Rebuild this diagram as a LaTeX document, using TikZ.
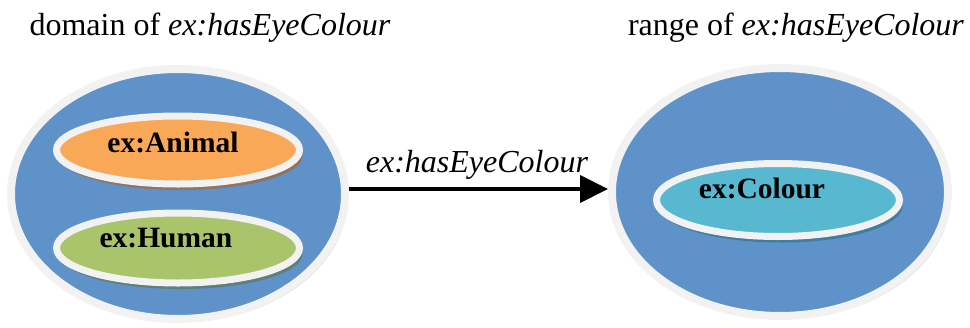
\documentclass[tikz,border=0pt]{standalone}
\usepackage{fontspec}
\setmainfont{Liberation Serif}
\usetikzlibrary{shapes.geometric,shadows,arrows.meta}
\definecolor{bigblue}{HTML}{5E92C8}
\definecolor{rimwhite}{HTML}{F2F2F2}
\definecolor{orangefill}{HTML}{F9A857}
\definecolor{greenfill}{HTML}{AAC46B}
\definecolor{cyanfill}{HTML}{57B8CF}
\definecolor{bigshadow}{HTML}{A9B4C2}
\definecolor{orangeshadow}{HTML}{8E7461}
\definecolor{greenshadow}{HTML}{5E7F7A}
\definecolor{cyanshadow}{HTML}{3F7E9E}
\tikzset{
  bigell/.style={ellipse, inner sep=0pt, fill=bigblue, draw=rimwhite, line width=8pt,
    drop shadow={shadow xshift=3pt, shadow yshift=-3pt, fill=bigshadow, opacity=0.8}},
  smallell/.style={ellipse, inner sep=0pt, draw=rimwhite, line width=7pt},
  boldlbl/.style={font=\fontsize{29.5}{33}\selectfont\bfseries, anchor=base, inner sep=0pt},
  titlelbl/.style={font=\fontsize{32}{37}\selectfont, anchor=base, inner sep=0pt},
}
\begin{document}
\begin{tikzpicture}[x=1pt,y=-1pt]
\useasboundingbox (0,0) rectangle (970,327);
% big ellipses
\node[bigell, minimum width=334pt, minimum height=250pt] (L) at (178,194) {};
\node[bigell, minimum width=336pt, minimum height=248pt] (R) at (780,192) {};
% inner ellipses
\node[smallell, fill=orangefill, minimum width=243pt, minimum height=68pt,
  drop shadow={shadow xshift=3pt, shadow yshift=-6pt, fill=orangeshadow, opacity=1}] (A) at (178,150) {};
\node[smallell, fill=greenfill, minimum width=243pt, minimum height=70pt,
  drop shadow={shadow xshift=3pt, shadow yshift=-6pt, fill=greenshadow, opacity=1}] (H) at (178,248) {};
\node[smallell, fill=cyanfill, minimum width=243pt, minimum height=73pt,
  drop shadow={shadow xshift=3pt, shadow yshift=-6pt, fill=cyanshadow, opacity=1}] (C) at (778,200) {};
% labels
\node[boldlbl] (At) at (173,152) {ex:Animal};
\node[boldlbl] (Ht) at (166,247) {ex:Human};
\node[boldlbl] (Ct) at (762,198) {ex:Colour};
\node[titlelbl] (T1) at (210,35) {domain of \textit{ex:hasEyeColour}};
\node[titlelbl] (T2) at (796,35) {range of \textit{ex:hasEyeColour}};
% arrow
\draw[line width=4pt, -{Triangle[length=28pt,width=27pt]}] ([yshift=5pt]L.east) -- ([yshift=3pt]R.west);
\node[titlelbl] (E) at (477,172) {\textit{ex:hasEyeColour}};
\end{tikzpicture}
\end{document}
